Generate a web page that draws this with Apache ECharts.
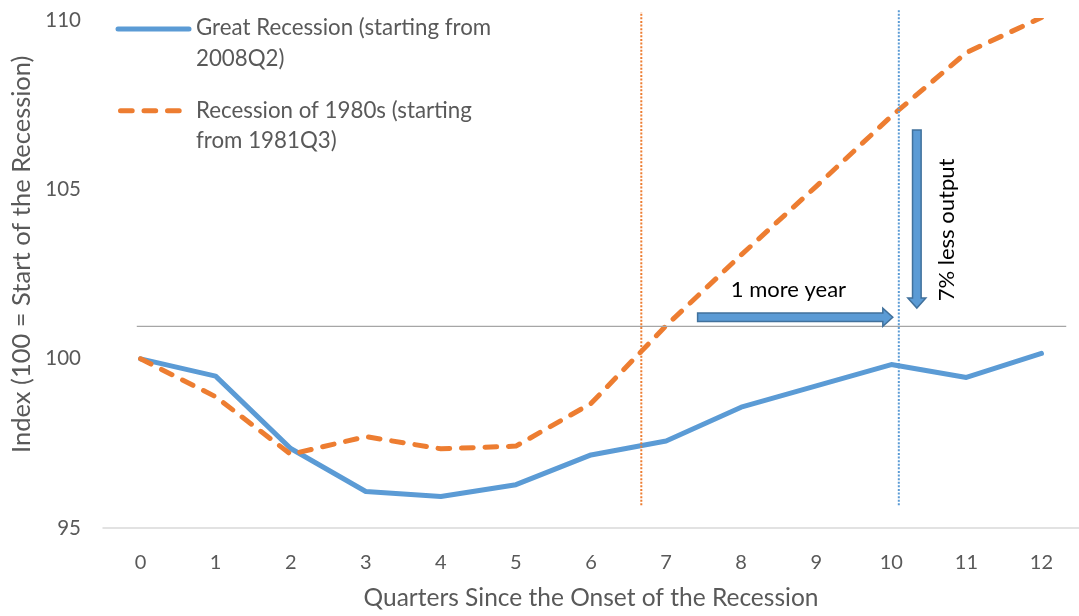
<!DOCTYPE html>
<html><head><meta charset="utf-8">
<script src="https://cdn.jsdelivr.net/npm/echarts@6/dist/echarts.min.js"></script>
<style>html,body{margin:0;padding:0;background:#fff}#c{width:1079px;height:616px}</style>
</head><body><div id="c"></div>
<script>
// ---- data ----
const quarters = ['0','1','2','3','4','5','6','7','8','9','10','11','12'];
const greatRecession = [100, 99.49, 97.35, 96.08, 95.93, 96.28, 97.16, 97.57, 98.57, 99.2, 99.83, 99.45, 100.16];
const recession1980s = [100, 98.88, 97.18, 97.70, 97.34, 97.42, 98.68, 100.98, 103.07, 105.1, 107.17, 109.05, 110.09];
const seriesNames = ['Great Recession (starting from\n2008Q2)', 'Recession of 1980s (starting\nfrom 1981Q3)'];
const yMin = 95, yMax = 110, yStep = 5;
const xAxisTitle = 'Quarters Since the Onset of the Recession';
const yAxisTitle = 'Index (100 = Start of the Recession)';
// annotations, in data units (x: quarter position, y: index value)
const refVLines = [[6.67, 95.67, 110.25], [10.1, 95.67, 110.31]];   // x, yFrom, yTo
const refHLine = [[-0.05, 12.33, 100.96]];                           // xFrom, xTo, y
const arrows = [[7.42, 101.23, 10.02, 101.23], [10.34, 106.76, 10.34, 101.50]]; // x1,y1,x2,y2
const notePositions = [[8.63, 102.05], [10.74, 103.81]];
const noteLabels = ['1 more year', '7% less output'];

// ---- styles ----
const BLUE = '#5b9bd5', ORANGE = '#ed7d31', TXT = '#595959';
const FONT = 'Lato, "Open Sans", sans-serif';
const vLineColors = [ORANGE, BLUE];
const noteRotations = [0, Math.PI / 2];

const chart = echarts.init(document.getElementById('c'), null, {renderer: 'canvas'});
chart.setOption({
  animation: false,
  backgroundColor: '#fff',
  textStyle: {fontFamily: FONT},
  grid: {left: 103, right: 0, top: 20.5, bottom: 83.3},
  xAxis: [{
    type: 'category', data: quarters, boundaryGap: true,
    axisLine: {lineStyle: {color: '#d9d9d9', width: 1.5}},
    axisTick: {show: false},
    axisLabel: {color: TXT, fontSize: 20, margin: 25, fontFamily: FONT},
    name: xAxisTitle, nameLocation: 'middle', nameGap: 58,
    nameTextStyle: {color: TXT, fontSize: 24.5, fontFamily: FONT}
  }, {
    type: 'value', show: false, min: -0.5, max: 12.5
  }],
  yAxis: {
    type: 'value', min: yMin, max: yMax, interval: yStep,
    axisLine: {show: false}, axisTick: {show: false}, splitLine: {show: false},
    axisLabel: {color: TXT, fontSize: 20.5, margin: 22, fontFamily: FONT},
    name: yAxisTitle, nameLocation: 'middle', nameGap: 68, nameRotate: 90,
    nameTextStyle: {color: TXT, fontSize: 25.5, fontFamily: FONT, padding: [0, 0, 0, 40]}
  },
  graphic: [
    {type: 'line', shape: {x1: 118, y1: 29, x2: 189, y2: 29}, style: {stroke: BLUE, lineWidth: 5, lineCap: 'round'}},
    {type: 'text', x: 196, y: 12.5, style: {text: seriesNames[0], font: '22.3px ' + FONT, fill: TXT, lineHeight: 31, verticalAlign: 'top'}},
    {type: 'line', shape: {x1: 120.5, y1: 110.7, x2: 182, y2: 110.7}, style: {stroke: ORANGE, lineWidth: 5, lineCap: 'round', lineDash: [11.7, 11.8]}},
    {type: 'text', x: 196, y: 95.5, style: {text: seriesNames[1], font: '22.3px ' + FONT, fill: TXT, lineHeight: 30, verticalAlign: 'top'}}
  ],
  series: [
    {
      name: seriesNames[0], type: 'line', data: greatRecession, symbol: 'none', z: 2,
      lineStyle: {color: BLUE, width: 5, cap: 'round', join: 'round'}
    },
    {
      name: seriesNames[1], type: 'line', data: recession1980s, symbol: 'none', z: 3,
      lineStyle: {color: ORANGE, width: 5, type: [11.7, 11.8], cap: 'round', join: 'round'}
    },
    {
      type: 'custom', xAxisIndex: 1, yAxisIndex: 0, data: refHLine, z: 4, silent: true,
      encode: {x: [0, 1], y: 2},
      renderItem: (params, api) => {
        const a = api.coord([api.value(0), api.value(2)]);
        const b = api.coord([api.value(1), api.value(2)]);
        return {type: 'line', shape: {x1: a[0], y1: a[1], x2: b[0], y2: b[1]},
          style: {stroke: '#a6a6a6', lineWidth: 1.3}};
      }
    },
    {
      type: 'custom', xAxisIndex: 1, yAxisIndex: 0, data: refVLines, z: 5, silent: true,
      encode: {x: 0, y: [1, 2]},
      renderItem: (params, api) => {
        const a = api.coord([api.value(0), api.value(1)]);
        const b = api.coord([api.value(0), api.value(2)]);
        return {type: 'line', shape: {x1: a[0], y1: a[1], x2: b[0], y2: b[1]},
          style: {stroke: vLineColors[params.dataIndex], lineWidth: 2, lineDash: [2, 1.6]}};
      }
    },
    {
      type: 'custom', xAxisIndex: 1, yAxisIndex: 0, data: arrows, z: 6, silent: true,
      encode: {x: [0, 2], y: [1, 3]},
      renderItem: (params, api) => {
        const p = api.coord([api.value(0), api.value(1)]);
        const q = api.coord([api.value(2), api.value(3)]);
        const dx = q[0] - p[0], dy = q[1] - p[1], L = Math.hypot(dx, dy);
        const ux = dx / L, uy = dy / L, nx = -uy, ny = ux;
        const sw = 4.3, hw = 9, hl = 10;
        const bx = q[0] - ux * hl, by = q[1] - uy * hl;
        const pts = [
          [p[0] + nx * sw, p[1] + ny * sw], [bx + nx * sw, by + ny * sw], [bx + nx * hw, by + ny * hw],
          [q[0], q[1]],
          [bx - nx * hw, by - ny * hw], [bx - nx * sw, by - ny * sw], [p[0] - nx * sw, p[1] - ny * sw]
        ];
        return {type: 'polygon', shape: {points: pts},
          style: {fill: BLUE, stroke: '#41719c', lineWidth: 1.5}};
      }
    },
    {
      type: 'custom', xAxisIndex: 1, yAxisIndex: 0, data: notePositions, z: 7, silent: true,
      encode: {x: 0, y: 1},
      renderItem: (params, api) => {
        const c = api.coord([api.value(0), api.value(1)]);
        return {type: 'text', x: c[0], y: c[1], rotation: noteRotations[params.dataIndex],
          style: {text: noteLabels[params.dataIndex], font: '22px ' + FONT, fill: '#000',
            align: 'center', verticalAlign: 'middle'}};
      }
    }
  ]
});
</script>
</body></html>
